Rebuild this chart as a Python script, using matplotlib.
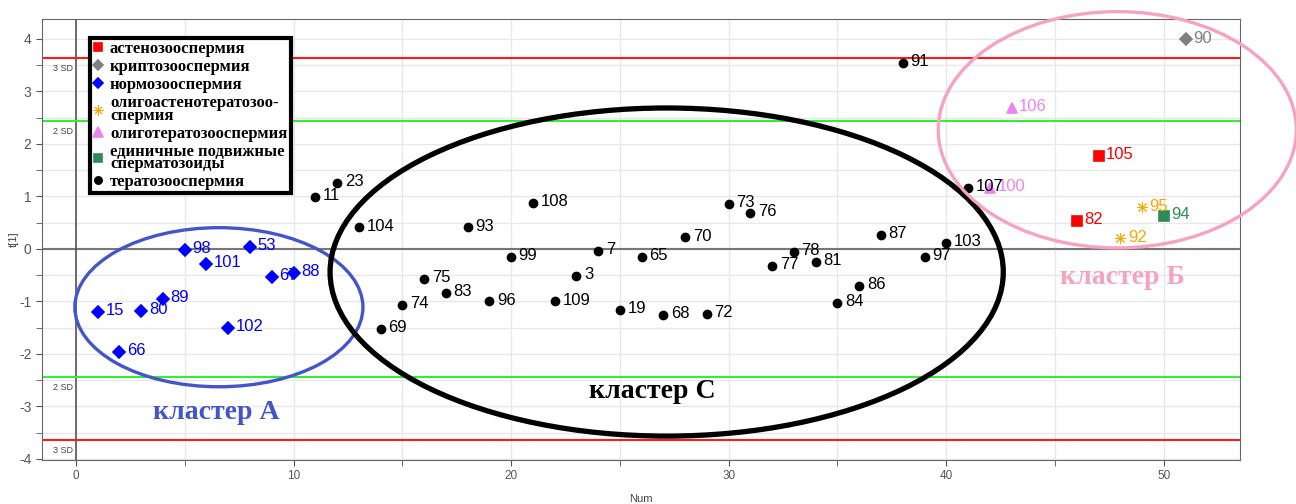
import matplotlib
matplotlib.use('Agg')
import matplotlib.pyplot as plt
from matplotlib.patches import Ellipse
from matplotlib.lines import Line2D
from matplotlib.ticker import MultipleLocator

plt.rcParams['font.family'] = ['Liberation Sans', 'DejaVu Sans']
plt.rcParams['axes.unicode_minus'] = False

# scores t[1] by observation number (Num), point labels are sample ids
norm_num = [1, 2, 3, 4, 5, 6, 7, 8, 9, 10]
norm_t1 = [-1.2, -1.96, -1.18, -0.95, -0.02, -0.29, -1.5, 0.03, -0.53, -0.46]
norm_id = ['15', '66', '80', '89', '98', '101', '102', '53', '67', '88']

terato_num = list(range(11, 42))
terato_t1 = [0.99, 1.26, 0.41, -1.53, -1.07, -0.57, -0.83, 0.41, -1.0, -0.15,
             0.87, -1.0, -0.51, -0.04, -1.17, -0.15, -1.26, 0.22, -1.23, 0.86,
             0.69, -0.33, -0.06, -0.24, -1.02, -0.70, 0.27, 3.54, -0.15, 0.11, 1.16]
terato_id = ['11', '23', '104', '69', '74', '75', '83', '93', '96', '99',
             '108', '109', '3', '7', '19', '65', '68', '70', '72', '73',
             '76', '77', '78', '81', '84', '86', '87', '91', '97', '103', '107']

oligoterato_num = [42, 43]
oligoterato_t1 = [1.16, 2.69]
oligoterato_id = ['100', '106']

astheno_num = [46, 47]
astheno_t1 = [0.53, 1.78]
astheno_id = ['82', '105']

oat_num = [48, 49]
oat_t1 = [0.2, 0.79]
oat_id = ['92', '95']

single_num = [50]
single_t1 = [0.63]
single_id = ['94']

crypto_num = [51]
crypto_t1 = [3.99]
crypto_id = ['90']

sd2 = 2.44
sd3 = 3.64

# legend order
groups = [
    (astheno_num, astheno_t1, astheno_id, 's', '#ff0000', 6.5, 1.2, 'астенозооспермия'),
    (crypto_num, crypto_t1, crypto_id, 'D', '#808080', 6.0, 1.2, 'криптозооспермия'),
    (norm_num, norm_t1, norm_id, 'D', '#0000ff', 6.0, 1.2, 'нормозооспермия'),
    (oat_num, oat_t1, oat_id, (8, 2, 0), '#ffa500', 8.0, 0.7, 'олигоастенотератозоо-\nспермия'),
    (oligoterato_num, oligoterato_t1, oligoterato_id, '^', '#ee82ee', 7.5, 1.2, 'олиготератозооспермия'),
    (single_num, single_t1, single_id, 's', '#2e8b57', 6.5, 1.2, 'единичные подвижные\nсперматозоиды'),
    (terato_num, terato_t1, terato_id, 'o', '#000000', 5.8, 1.2, 'тератозооспермия'),
]

fig = plt.figure(figsize=(12.96, 5.04), dpi=100)
ax = fig.add_axes([0.0324, 0.0873, 0.9244, 0.8750])

ax.set_xlim(-1.56, 53.5)
ax.set_ylim(-4.02, 4.38)

ax.xaxis.set_major_locator(MultipleLocator(10))
ax.xaxis.set_minor_locator(MultipleLocator(5))
ax.yaxis.set_major_locator(MultipleLocator(1))
ax.yaxis.set_minor_locator(MultipleLocator(0.5))
ax.grid(True, which='both', color='#e8e8e8', lw=1, zorder=0)
ax.set_axisbelow(True)
for s in ax.spines.values():
    s.set_color('#666666')
ax.tick_params(which='both', direction='out', color='#555555', length=4)
ax.tick_params(axis='x', labelsize=8.5, labelcolor='#555555')
ax.tick_params(axis='y', labelsize=10, labelcolor='#555555')
ax.set_xlabel('Num', fontsize=8, color='#444444', labelpad=8)
ax.set_ylabel('t[1]', fontsize=8, color='#444444')
ax.yaxis.set_label_coords(-0.019, 0.5)

ax.axhline(0, color='#777777', lw=1.5, zorder=1)
ax.axvline(0, color='#555555', lw=1.2, zorder=1)
for v in (sd3, -sd3):
    ax.axhline(v, color='#ff1a1a', lw=1.5, zorder=1)
for v in (sd2, -sd2):
    ax.axhline(v, color='#33ee33', lw=1.5, zorder=1)
for v, txt in ((sd3, '3 SD'), (sd2, '2 SD'), (-sd2, '2 SD'), (-sd3, '3 SD')):
    ax.text(-0.6, v - 0.12, txt, fontsize=6.5, color='#444444', ha='center', va='top')

handles = []
for num, t1, ids, mk, col, ms, mew, name in groups:
    ax.plot(num, t1, ls='none', marker=mk, color=col, ms=ms, mew=mew, zorder=3)
    for x, y, lab in zip(num, t1, ids):
        ax.annotate(lab, (x, y), xytext=(5.5, 1), textcoords='offset points',
                    fontsize=12, color=col, va='center', ha='left', zorder=4)
    handles.append(Line2D([], [], ls='none', marker=mk, color=col, ms=ms * 0.9, mew=mew,
                          label=name))

# cluster ellipses
ax.add_patch(Ellipse((6.57, -1.11), 13.24, 3.03, fill=False, ec='#4455cc', lw=2.4, zorder=5))
ax.add_patch(Ellipse((27.15, -0.44), 30.94, 6.25, fill=False, ec='black', lw=3.8, zorder=5))
ax.add_patch(Ellipse((47.86, 2.27), 16.46, 4.5, fill=False, ec='#f5a3c0', lw=2.4,
                     zorder=5, clip_on=False))

serif = ['Liberation Serif', 'DejaVu Serif']
ax.text(6.45, -3.12, 'кластер А', fontsize=20, fontweight='bold', family=serif,
        color='#4455cc', ha='center', va='center')
ax.text(26.5, -2.72, 'кластер С', fontsize=20, fontweight='bold', family=serif,
        color='black', ha='center', va='center')
ax.text(48.1, -0.55, 'кластер Б', fontsize=20, fontweight='bold', family=serif,
        color='#f5a3c0', ha='center', va='center')

leg = ax.legend(handles=handles, loc='upper left', bbox_to_anchor=(0.040, 0.957),
                borderaxespad=0, fancybox=False, framealpha=1, edgecolor='black',
                prop={'family': serif, 'weight': 'bold', 'size': 12},
                handlelength=0.6, handletextpad=0.4, labelspacing=0.12, borderpad=0.2)
leg.get_frame().set_linewidth(3)
leg.set_zorder(10)
for t in leg.get_texts():
    t.set_linespacing(0.7)

fig.savefig('out.png', dpi=100)
